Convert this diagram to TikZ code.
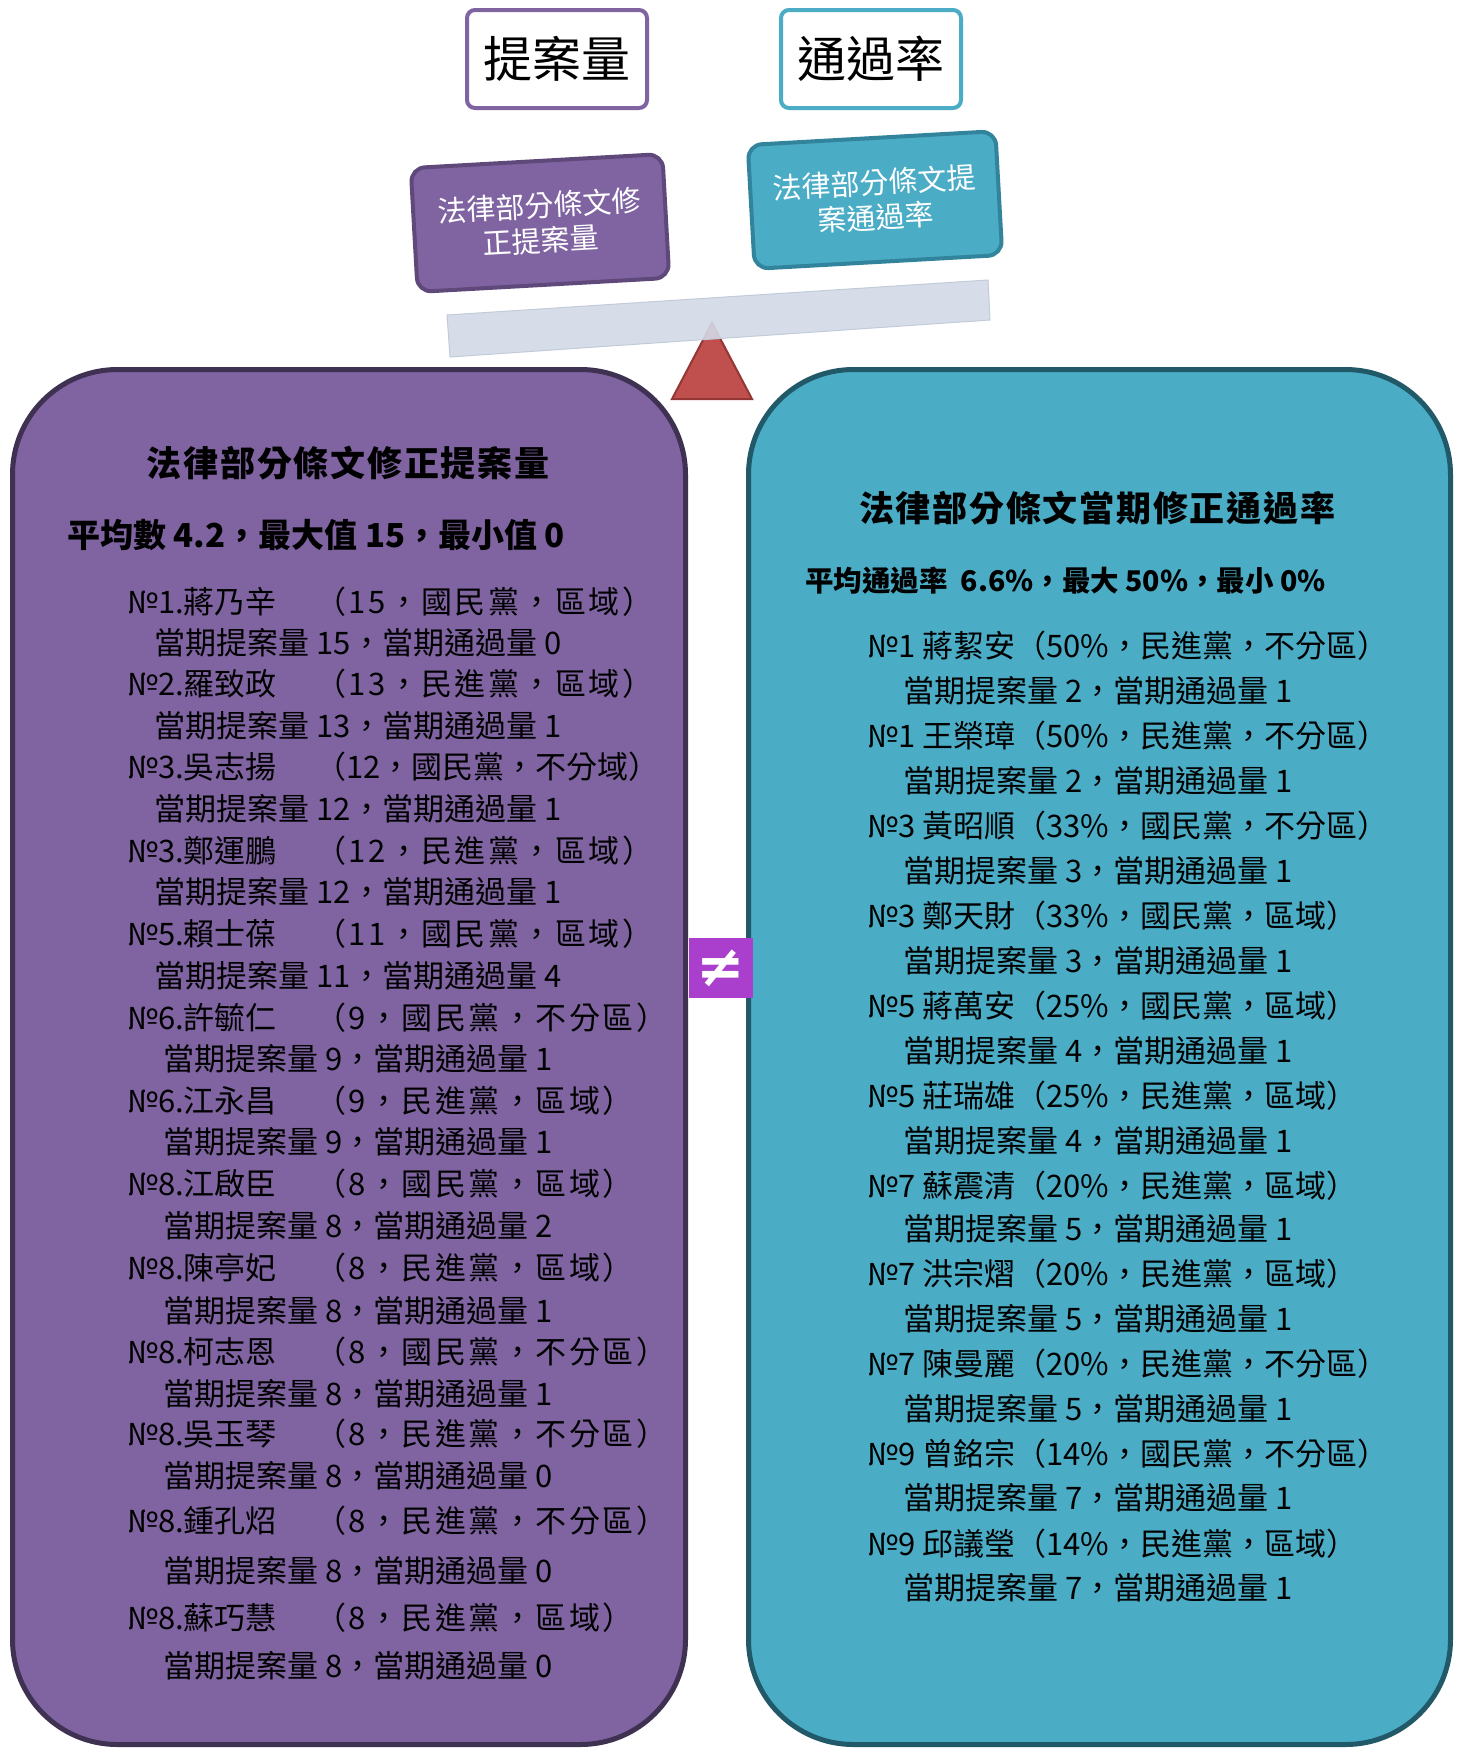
\documentclass[tikz,border=0pt]{standalone}
\usepackage{fontspec}
\setmainfont{Noto Sans CJK TC}
\newfontfamily\symfont{DejaVu Sans}
\newcommand{\wideparen}[1]{{\addfontfeatures{LetterSpace=8}#1}}
\definecolor{cpurp}{HTML}{8064A2}
\definecolor{cpurpdark}{HTML}{3F3151}
\definecolor{cpurpmid}{HTML}{5F497A}
\definecolor{cteal}{HTML}{4BACC6}
\definecolor{ctealdark}{HTML}{215968}
\definecolor{ctealmid}{HTML}{31849B}
\definecolor{cbar}{HTML}{D3DAE6}
\definecolor{cbarline}{HTML}{C3CBDA}
\definecolor{ctri}{HTML}{C0504D}
\definecolor{ctridark}{HTML}{943634}
\definecolor{cneq}{HTML}{A93FCC}
\begin{document}
\begin{tikzpicture}[x=1pt,y=-1pt,
  bigbox/.style={draw, line width=5pt, rounded corners=105pt, inner sep=0pt, minimum height=1375pt},
  topbox/.style={draw, fill=white, line width=4pt, rounded corners=8pt, minimum width=180pt, minimum height=98pt, inner sep=0pt, font=\fontsize{49}{52}\selectfont},
  tiltbox/.style={draw, line width=4pt, rounded corners=14pt, rotate=3.2, minimum height=124pt, inner sep=0pt, text=white, align=center, font=\fontsize{29}{35}\selectfont},
  boxtitle/.style={anchor=base, inner sep=0pt, font=\bfseries\fontsize{35}{40}\selectfont\addfontfeatures{LetterSpace=5}},
  boxstat/.style={anchor=base west, inner sep=0pt, font=\bfseries\fontsize{33}{38}\selectfont},
  entry/.style={anchor=base west, inner sep=0pt, font=\fontsize{31}{37}\selectfont},
  subentry/.style={anchor=base, inner sep=0pt, font=\fontsize{31}{37}\selectfont}
]
\useasboundingbox (0,0) rectangle (1457,1749);
\fill[white] (0,0) rectangle (1457,1749);

% top labels
\node[topbox, draw=cpurp] (tA) at (557,59) {提案量};
\node[topbox, draw=cteal] (tB) at (871,59) {通過率};

% tilted boxes
\node[tiltbox, fill=cpurp, draw=cpurpmid, minimum width=252pt] (pA) at (540,223) {法律部分條文修\\正提案量};
\node[tiltbox, fill=cteal, draw=ctealmid, minimum width=248pt] (pB) at (875,200) {法律部分條文提\\案通過率};

% fulcrum and beam
\draw[fill=ctri, draw=ctridark, line width=2pt] (712,323) -- (752,399) -- (672,399) -- cycle;
\draw[fill=cbar, draw=cbarline, line width=1pt, fill opacity=0.9] (447,315) -- (988,280) -- (990,320) -- (450,357) -- cycle;

% big boxes
\node[bigbox, fill=cpurp, draw=cpurpdark, minimum width=673pt] (L) at (349,1057) {};
\node[bigbox, fill=cteal, draw=ctealdark, minimum width=702pt] (R) at (1099.5,1057) {};

% not-equal sign
\node[fill=cneq, minimum width=64pt, minimum height=60pt, inner sep=0pt, text=white,
      font=\symfont\bfseries\fontsize{58}{58}\selectfont] (ne) at (721,968) {≠};

% left contents
\node[boxtitle] (Lt) at (348,476) {法律部分條文修正提案量};
\node[boxstat] (Ls) at (67,547) {平均數 4.2，最大值 15，最小值 0};

\node[entry] (L1)  at (127,613) {\makebox[188pt][l]{№1.蔣乃辛}\wideparen{（15，國民黨，區域）}};
\node[subentry] (L1s) at (358,654) {當期提案量 15，當期通過量 0};
\node[entry] (L2)  at (127,695) {\makebox[188pt][l]{№2.羅致政}\wideparen{（13，民進黨，區域）}};
\node[subentry] (L2s) at (358,737) {當期提案量 13，當期通過量 1};
\node[entry] (L3)  at (127,778) {\makebox[188pt][l]{№3.吳志揚}（12，國民黨，不分域）};
\node[subentry] (L3s) at (358,820) {當期提案量 12，當期通過量 1};
\node[entry] (L4)  at (127,862) {\makebox[188pt][l]{№3.鄭運鵬}\wideparen{（12，民進黨，區域）}};
\node[subentry] (L4s) at (358,903) {當期提案量 12，當期通過量 1};
\node[entry] (L5)  at (127,945) {\makebox[188pt][l]{№5.賴士葆}\wideparen{（11，國民黨，區域）}};
\node[subentry] (L5s) at (358,987) {當期提案量 11，當期通過量 4};
\node[entry] (L6)  at (127,1029) {\makebox[188pt][l]{№6.許毓仁}\wideparen{（9，國民黨，不分區）}};
\node[subentry] (L6s) at (358,1070) {當期提案量 9，當期通過量 1};
\node[entry] (L7)  at (127,1112) {\makebox[188pt][l]{№6.江永昌}\wideparen{（9，民進黨，區域）}};
\node[subentry] (L7s) at (358,1153) {當期提案量 9，當期通過量 1};
\node[entry] (L8)  at (127,1195) {\makebox[188pt][l]{№8.江啟臣}\wideparen{（8，國民黨，區域）}};
\node[subentry] (L8s) at (358,1237) {當期提案量 8，當期通過量 2};
\node[entry] (L9)  at (127,1279) {\makebox[188pt][l]{№8.陳亭妃}\wideparen{（8，民進黨，區域）}};
\node[subentry] (L9s) at (358,1322) {當期提案量 8，當期通過量 1};
\node[entry] (L10) at (127,1363) {\makebox[188pt][l]{№8.柯志恩}\wideparen{（8，國民黨，不分區）}};
\node[subentry] (L10s) at (358,1405) {當期提案量 8，當期通過量 1};
\node[entry] (L11) at (127,1445) {\makebox[188pt][l]{№8.吳玉琴}\wideparen{（8，民進黨，不分區）}};
\node[subentry] (L11s) at (358,1487) {當期提案量 8，當期通過量 0};
\node[entry] (L12) at (127,1532) {\makebox[188pt][l]{№8.鍾孔炤}\wideparen{（8，民進黨，不分區）}};
\node[subentry] (L12s) at (358,1582) {當期提案量 8，當期通過量 0};
\node[entry] (L13) at (127,1629) {\makebox[188pt][l]{№8.蘇巧慧}\wideparen{（8，民進黨，區域）}};
\node[subentry] (L13s) at (358,1677) {當期提案量 8，當期通過量 0};

% right contents
\node[boxtitle] (Rt) at (1097,521) {法律部分條文當期修正通過率};
\node[boxstat, font=\bfseries\fontsize{28.5}{34}\selectfont] (Rs) at (805,591) {平均通過率 \ 6.6\%，最大 50\%，最小 0\%};

\node[entry] (R1)  at (867,657) {№1 蔣絜安（50\%，民進黨，不分區）};
\node[subentry] (R1s) at (1098,702) {當期提案量 2，當期通過量 1};
\node[entry] (R2)  at (867,747) {№1 王榮璋（50\%，民進黨，不分區）};
\node[subentry] (R2s) at (1098,792) {當期提案量 2，當期通過量 1};
\node[entry] (R3)  at (867,837) {№3 黃昭順（33\%，國民黨，不分區）};
\node[subentry] (R3s) at (1098,882) {當期提案量 3，當期通過量 1};
\node[entry] (R4)  at (867,927) {№3 鄭天財（33\%，國民黨，區域）};
\node[subentry] (R4s) at (1098,972) {當期提案量 3，當期通過量 1};
\node[entry] (R5)  at (867,1017) {№5 蔣萬安（25\%，國民黨，區域）};
\node[subentry] (R5s) at (1098,1062) {當期提案量 4，當期通過量 1};
\node[entry] (R6)  at (867,1107) {№5 莊瑞雄（25\%，民進黨，區域）};
\node[subentry] (R6s) at (1098,1152) {當期提案量 4，當期通過量 1};
\node[entry] (R7)  at (867,1197) {№7 蘇震清（20\%，民進黨，區域）};
\node[subentry] (R7s) at (1098,1240) {當期提案量 5，當期通過量 1};
\node[entry] (R8)  at (867,1285) {№7 洪宗熠（20\%，民進黨，區域）};
\node[subentry] (R8s) at (1098,1330) {當期提案量 5，當期通過量 1};
\node[entry] (R9)  at (867,1375) {№7 陳曼麗（20\%，民進黨，不分區）};
\node[subentry] (R9s) at (1098,1420) {當期提案量 5，當期通過量 1};
\node[entry] (R10) at (867,1465) {№9 曾銘宗（14\%，國民黨，不分區）};
\node[subentry] (R10s) at (1098,1509) {當期提案量 7，當期通過量 1};
\node[entry] (R11) at (867,1555) {№9 邱議瑩（14\%，民進黨，區域）};
\node[subentry] (R11s) at (1098,1599) {當期提案量 7，當期通過量 1};
\end{tikzpicture}
\end{document}
